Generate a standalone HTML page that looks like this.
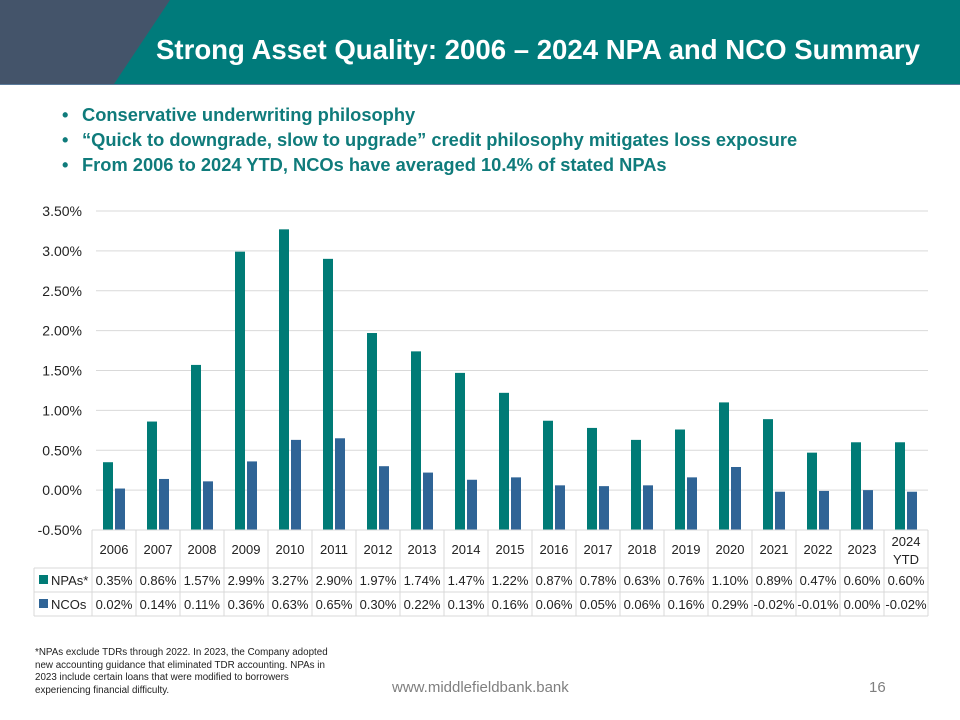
<!DOCTYPE html>
<html><head><meta charset="utf-8"><style>
body{margin:0;width:960px;height:720px;overflow:hidden;background:#fff;font-family:"Liberation Sans",sans-serif;position:relative}
.b{position:absolute;left:62px;font-weight:bold;color:#0f7b7b;font-size:18.3px}
</style></head><body>
<svg width="960" height="86" style="position:absolute;left:0;top:0">
<rect width="960" height="85" fill="#007b7b"/>
<polygon points="0,0 170,0 114,84 0,84" fill="#44546a"/>
<line x1="0" y1="84.5" x2="960" y2="84.5" stroke="#5a7a9a" stroke-width="1"/>
<text x="920" y="59" text-anchor="end" fill="#fff" font-weight="bold" font-size="28" textLength="764" lengthAdjust="spacingAndGlyphs" font-family="Liberation Sans, sans-serif">Strong Asset Quality: 2006 – 2024 NPA and NCO Summary</text>
</svg>
<div class="b" style="top:104px">•<span style="position:absolute;left:20px;white-space:nowrap">Conservative underwriting philosophy</span></div>
<div class="b" style="top:129px">•<span style="position:absolute;left:20px;white-space:nowrap">“Quick to downgrade, slow to upgrade” credit philosophy mitigates loss exposure</span></div>
<div class="b" style="top:154px">•<span style="position:absolute;left:20px;white-space:nowrap">From 2006 to 2024 YTD, NCOs have averaged 10.4% of stated NPAs</span></div>
<svg id="chart" width="960" height="720" style="position:absolute;left:0;top:0"></svg>
<div style="position:absolute;left:35px;top:647px;font-size:9.8px;line-height:12.5px;color:#222;width:300px">*NPAs exclude TDRs through 2022.  In 2023, the Company adopted new accounting guidance that eliminated TDR accounting.  NPAs in 2023 include certain loans that were modified to borrowers experiencing financial difficulty.</div>
<div style="position:absolute;left:392px;top:679px;font-size:15px;color:#7f7f7f">www.middlefieldbank.bank</div>
<div style="position:absolute;left:869px;top:679px;font-size:15px;color:#7f7f7f">16</div>
<script>
const categories=["2006","2007","2008","2009","2010","2011","2012","2013","2014","2015","2016","2017","2018","2019","2020","2021","2022","2023","2024 YTD"];
const npaValues=[0.35,0.86,1.57,2.99,3.27,2.90,1.97,1.74,1.47,1.22,0.87,0.78,0.63,0.76,1.10,0.89,0.47,0.60,0.60];
const ncoValues=[0.02,0.14,0.11,0.36,0.63,0.65,0.30,0.22,0.13,0.16,0.06,0.05,0.06,0.16,0.29,-0.02,-0.01,0.00,-0.02];
const yTicks=[-0.5,0,0.5,1,1.5,2,2.5,3,3.5];
const NS="http://www.w3.org/2000/svg";
const svg=document.getElementById('chart');
const yMin=-0.5,yMax=3.5,yTop=211,yBot=530,colL=92,colW=44;
function yS(v){return yBot-(v-yMin)/(yMax-yMin)*(yBot-yTop);}
function xC(i){return colL+i*colW;}
function mk(t,a,txt){const e=document.createElementNS(NS,t);for(const k in a)e.setAttribute(k,a[k]);if(txt!=null)e.textContent=txt;svg.appendChild(e);return e;}
yTicks.forEach(v=>{
  if(v>yMin){const g=mk('line',{x1:96,x2:928,y1:yS(v),y2:yS(v),stroke:'#d9d9d9','stroke-width':1});
  
  }
  const t=mk('text',{x:82,y:yS(v)+5,'text-anchor':'end','font-size':14,fill:'#222'},v.toFixed(2)+'%');
  
  
});
categories.forEach((c,i)=>{
  const x=xC(i);
  const b1=mk('rect',{x:x+11,y:yS(npaValues[i]),width:10,height:yBot-yS(npaValues[i]),fill:'#007b76'});
  
  
  const b2=mk('rect',{x:x+23,y:yS(ncoValues[i]),width:10,height:yBot-yS(ncoValues[i]),fill:'#2f6496'});
  
  
});
const tc='#d9d9d9';
function ln(x1,y1,x2,y2){const l=mk('line',{x1,y1,x2,y2,stroke:tc,'stroke-width':1});}
const tR=xC(categories.length);
ln(colL,530,tR,530);ln(34,568,tR,568);ln(34,592,tR,592);ln(34,616,tR,616);
ln(34,568,34,616);
for(let i=0;i<=categories.length;i++)ln(xC(i),530,xC(i),616);
categories.forEach((c,i)=>{
  const cx=xC(i)+colW/2;
  if(c.indexOf(' ')>0){const p=c.split(' ');
    const a=mk('text',{x:cx,y:546,'text-anchor':'middle','font-size':13,fill:'#222'},p[0]);
    const b=mk('text',{x:cx,y:564,'text-anchor':'middle','font-size':13,fill:'#222'},p[1]);
  } else {const a=mk('text',{x:cx,y:554,'text-anchor':'middle','font-size':13,fill:'#222'},c);}
  const v1=mk('text',{x:cx,y:585,'text-anchor':'middle','font-size':13,fill:'#222'},npaValues[i].toFixed(2)+'%');
  const v2=mk('text',{x:cx,y:609,'text-anchor':'middle','font-size':13,fill:'#222'},ncoValues[i].toFixed(2)+'%');
});
const k1=mk('rect',{x:39,y:575,width:9,height:9,fill:'#007b76'});
const l1=mk('text',{x:51,y:585,'font-size':13,fill:'#222'},'NPAs*');
const k2=mk('rect',{x:39,y:599,width:9,height:9,fill:'#2f6496'});
const l2=mk('text',{x:51,y:609,'font-size':13,fill:'#222'},'NCOs');
svg.querySelectorAll('text').forEach(t=>t.setAttribute('font-family','Liberation Sans, sans-serif'));
</script>
</body></html>
